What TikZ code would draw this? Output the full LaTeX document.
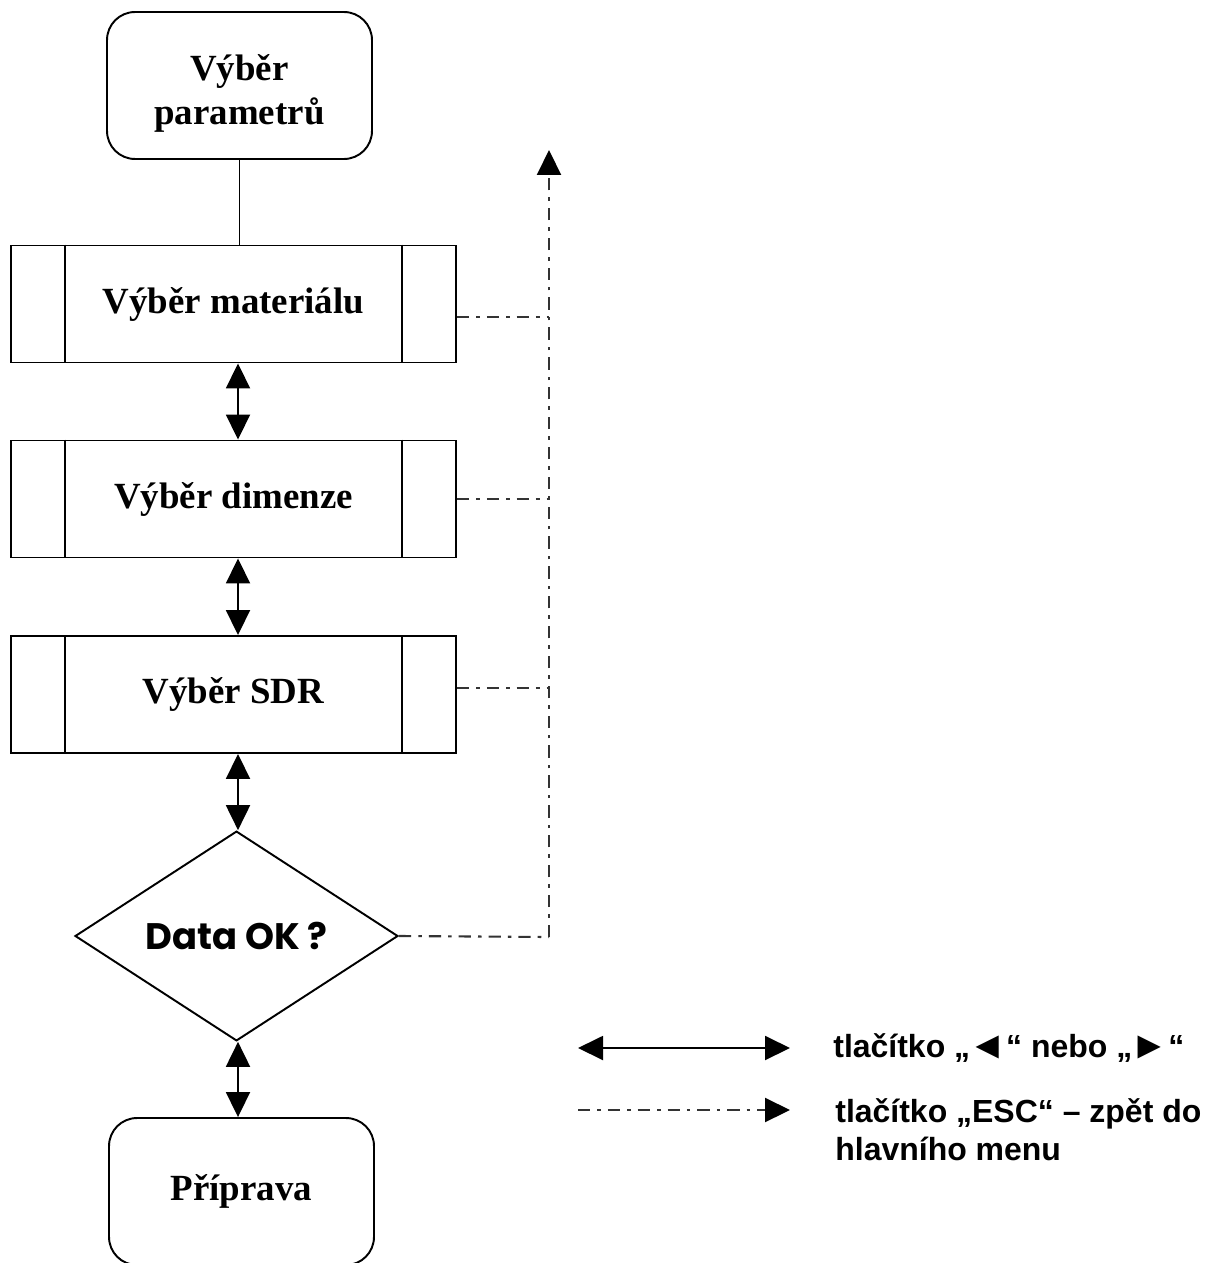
\documentclass[tikz,border=0pt]{standalone}
\usepackage{fontspec}
\setmainfont{Liberation Serif}
\newfontfamily\legfont{Liberation Sans}
\newfontfamily\geofont{Poppins}
\usetikzlibrary{shapes.geometric,arrows.meta}
\newcommand{\bigsym}[1]{\kern-1pt\raisebox{-0.8pt}{\fontsize{22}{21.6}\selectfont #1}\kern-0.3pt}
\tikzset{
  ln/.style={line width=1.1pt},
  term/.style={draw, ln, rounded corners=0.56cm, minimum width=5.3cm, minimum height=2.94cm,
    align=center, font=\fontsize{21}{25}\selectfont\bfseries},
  procbox/.style={draw, rectangle, ln, minimum width=8.9cm, minimum height=2.34cm,
    font=\fontsize{21}{25}\selectfont\bfseries},
  dec/.style={draw, diamond, ln, minimum width=6.46cm, minimum height=4.16cm, inner sep=0pt,
    font=\geofont\fontsize{21}{25}\selectfont\bfseries},
  dd/.style={line width=1.2pt, black!80, dash pattern=on 7pt off 4pt on 2pt off 4pt},
  biarrow/.style={ln, {Triangle[width=0.48cm,length=0.5cm]}-{Triangle[width=0.48cm,length=0.5cm]}},
  uparrow/.style={-{Triangle[width=0.48cm,length=0.5cm,color=black]}},
  legtext/.style={font=\legfont\bfseries\fontsize{18.2}{21.6}\selectfont, inner sep=0pt}
}
\begin{document}
\begin{tikzpicture}[x=0.02cm,y=-0.02cm]
\useasboundingbox (0,0) rectangle (1214,1263);
\clip (0,0) rectangle (1214,1263);
\fill[white] (0,0) rectangle (1214,1263);

% nodes
\node[term] (top) at (239.5,85.5) {\rule{0pt}{24pt}Výběr\\parametrů};
\node[procbox] (m1) at (233.5,304) {Výběr materiálu};
\node[procbox] (m2) at (233.5,499) {Výběr dimenze};
\node[procbox] (m3) at (233.5,694.5) {Výběr SDR};
\node[dec] (ok) at (236.5,936) {Data OK ?};
\node[term] (prep) at (241.5,1191.5) {Příprava};

% inner lines of process boxes
\foreach \b in {m1,m2,m3}{
  \draw[ln] ([xshift=1.1cm]\b.north west) -- ([xshift=1.1cm]\b.south west);
  \draw[ln] ([xshift=-1.1cm]\b.north east) -- ([xshift=-1.1cm]\b.south east);
}

% main flow
\draw[ln] (top.south) -- (top.south |- m1.north);
\draw[biarrow] (m1.south -| 238,0) -- (m2.north -| 238,0);
\draw[biarrow] (m2.south -| 238,0) -- (m3.north -| 238,0);
\draw[biarrow] (m3.south -| 238,0) -- (ok.north -| 238,0);
\draw[biarrow] (ok.south -| 238,0) -- (prep.north -| 238,0);

% ESC bus
\coordinate (bustop) at (549,150);
\coordinate (busbot) at (549,937);
\draw[dd] ([yshift=-0.26cm]m1.east) -- ([yshift=-0.26cm]m1.east -| bustop);
\draw[dd] (m2.east) -- (m2.east -| bustop);
\draw[dd] ([yshift=0.13cm]m3.east) -- ([yshift=0.13cm]m3.east -| bustop);
\draw[dd] (ok.east) -- (busbot);
\draw[dd, uparrow] (busbot) -- (bustop);

% legend
\coordinate (l1a) at (578,1048);
\coordinate (l1b) at (790,1048);
\coordinate (l2a) at (578,1110);
\coordinate (l2b) at (790,1110);
\draw[biarrow] (l1a) -- (l1b);
\draw[dd, uparrow] (l2a) -- (l2b);
\node[legtext, anchor=west] (leg1) at (833,1048) {tlačítko „\bigsym{◄}“ nebo „\bigsym{►}“};
\node[legtext, anchor=north west, align=left] (leg2) at (835,1098) {tlačítko „ESC“ – zpět do\\hlavního menu};
\end{tikzpicture}
\end{document}
